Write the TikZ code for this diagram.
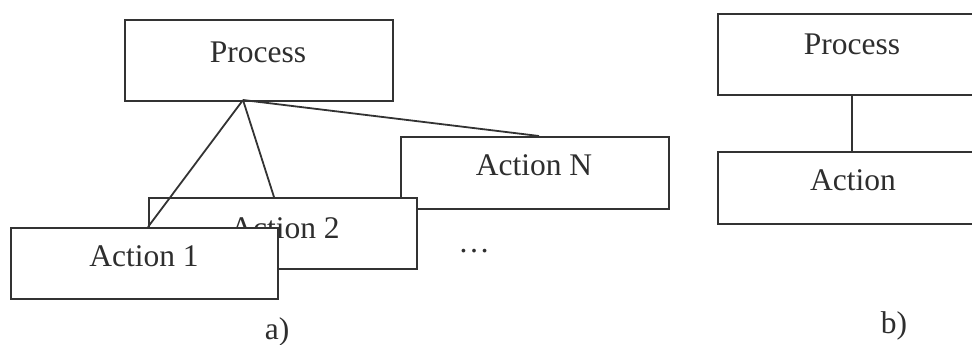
\documentclass[tikz,border=0pt]{standalone}
\usepackage{fontspec}
\setmainfont{Liberation Serif}
\begin{document}
\begin{tikzpicture}[x=1pt,y=-1pt,
  box/.style={draw=black!80,line width=1.8pt,fill=white,inner sep=0pt,anchor=north west},
  lbl/.style={inner sep=0pt,font=\fontsize{31.5}{36}\selectfont,text=black!82},
  conn/.style={draw=black!80,line width=1.8pt}]
\useasboundingbox (0,0) rectangle (972,345);
\clip (0,0) rectangle (972,345);
% a)
\node[box,minimum width=268pt,minimum height=72pt] (an) at (400,136) {};
\node[lbl] (tan) at (534,165) {Action N};
\node[box,minimum width=268pt,minimum height=71pt] (a2) at (148,197) {};
\node[lbl] (ta2) at (285,228) {Action 2};
\node[box,minimum width=267pt,minimum height=71pt] (a1) at (10,227) {};
\node[lbl] (ta1) at (144,256) {Action 1};
\node[box,minimum width=268pt,minimum height=81pt] (pa) at (124,19) {};
\node[lbl] (tpa) at (258,52) {Process};
\coordinate (apex) at (243,100);
\coordinate (e1) at (148,227);
\coordinate (e2) at (274,197);
\coordinate (en) at (539,136);
\draw[conn] (apex) -- (e1);
\draw[conn] (apex) -- (e2);
\draw[conn] (apex) -- (en);
\node[lbl] (dots) at (474,251) {\ldots};
\node[lbl] (capa) at (277,332) {a)};
% b)
\node[box,minimum width=268pt,minimum height=81pt] (pb) at (717,13) {};
\node[lbl] (tpb) at (852,44) {Process};
\node[box,minimum width=268pt,minimum height=72pt] (ab) at (717,151) {};
\node[lbl] (tab) at (853,180) {Action};
\coordinate (bt) at (852,94);
\coordinate (bb) at (852,151);
\draw[conn] (bt) -- (bb);
\node[lbl] (capb) at (894,326) {b)};
\end{tikzpicture}
\end{document}
